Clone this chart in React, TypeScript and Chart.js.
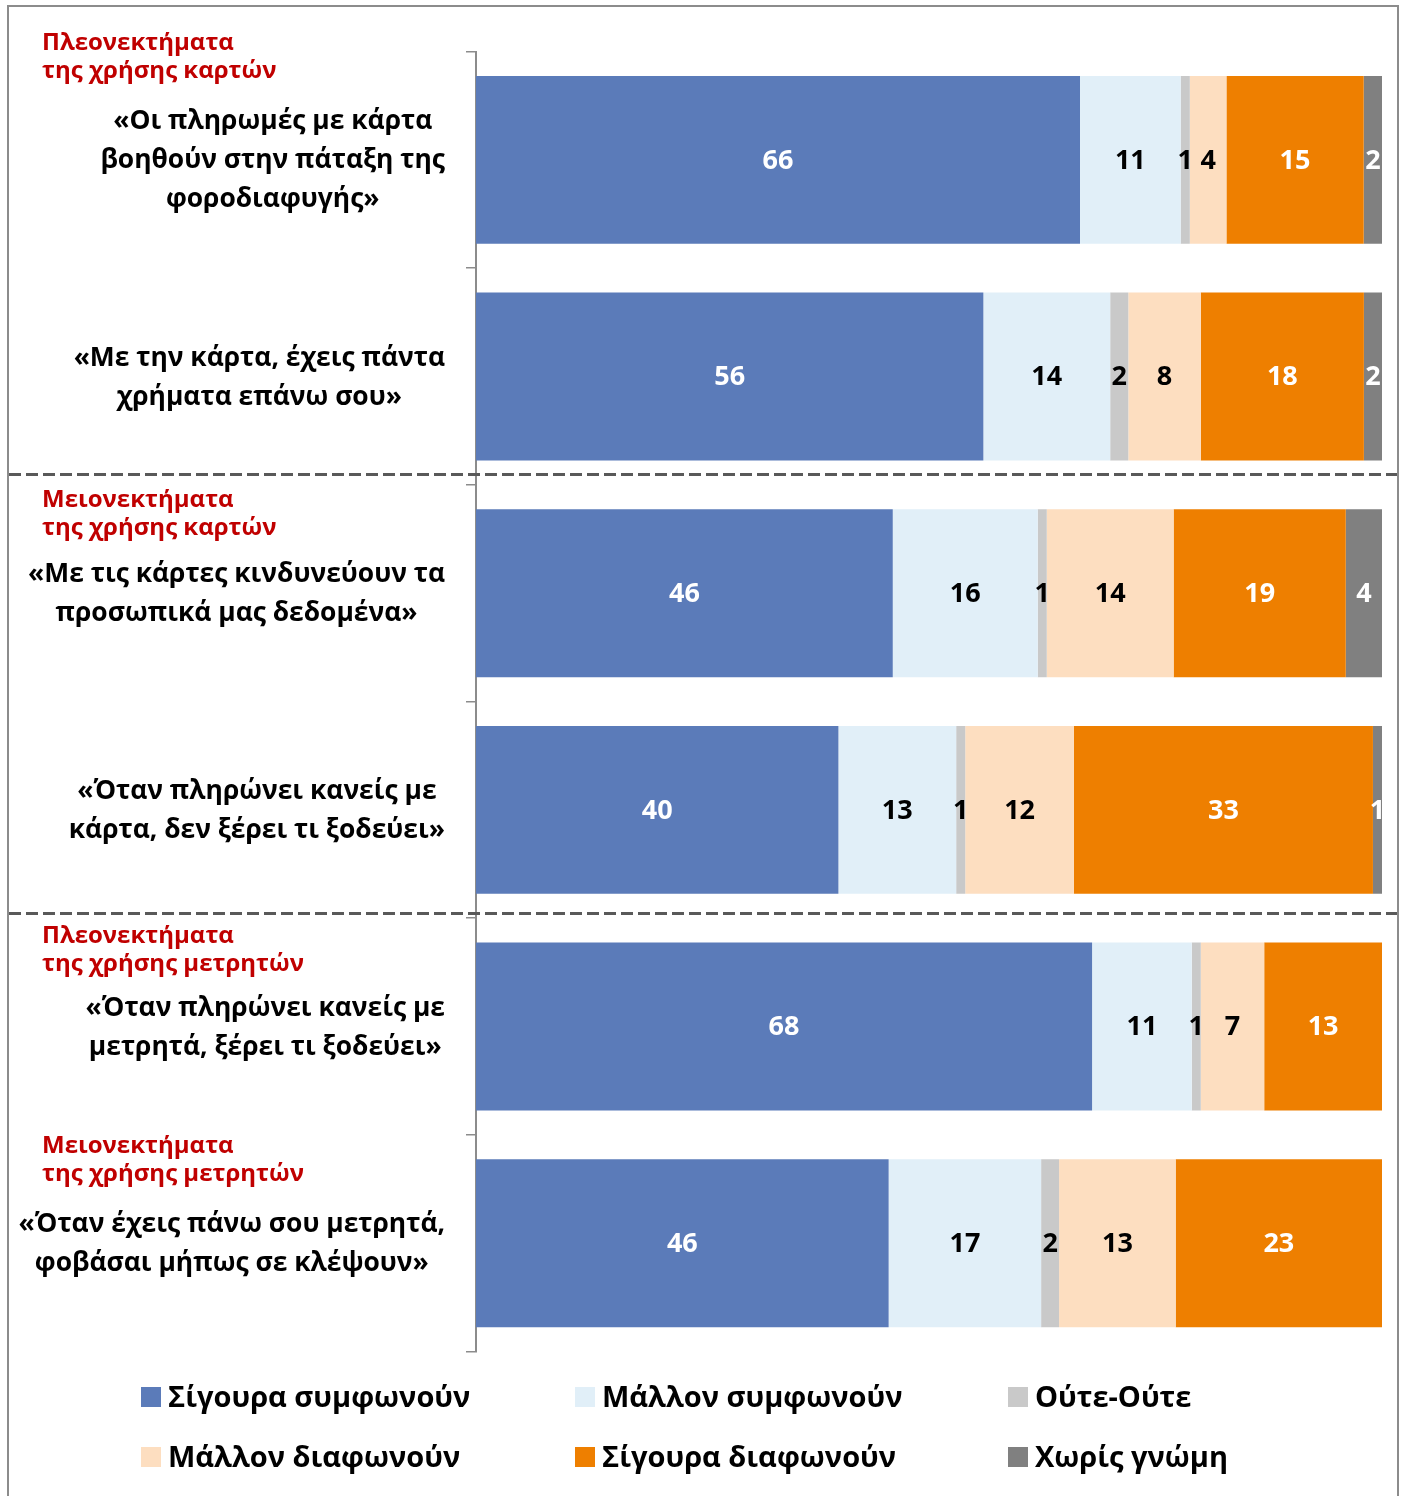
import React, { useEffect, useRef } from "react";
import { Chart, registerables } from "chart.js";

Chart.register(...registerables);

const categories: string[][] = [
  ["«Οι πληρωμές με κάρτα", "βοηθούν στην πάταξη της", "φοροδιαφυγής»"],
  ["«Με την κάρτα, έχεις πάντα", "χρήματα επάνω σου»"],
  ["«Με τις κάρτες κινδυνεύουν τα", "προσωπικά μας δεδομένα»"],
  ["«Όταν πληρώνει κανείς με", "κάρτα, δεν ξέρει τι ξοδεύει»"],
  ["«Όταν πληρώνει κανείς με", "μετρητά, ξέρει τι ξοδεύει»"],
  ["«Όταν έχεις πάνω σου μετρητά,", "φοβάσαι μήπως σε κλέψουν»"],
];

const sectionHeaders: string[][] = [
  ["Πλεονεκτήματα", "της χρήσης καρτών"],
  ["Μειονεκτήματα", "της χρήσης καρτών"],
  ["Πλεονεκτήματα", "της χρήσης μετρητών"],
  ["Μειονεκτήματα", "της χρήσης μετρητών"],
];

const seriesNames = [
  "Σίγουρα συμφωνούν",
  "Μάλλον συμφωνούν",
  "Ούτε-Ούτε",
  "Μάλλον διαφωνούν",
  "Σίγουρα διαφωνούν",
  "Χωρίς γνώμη",
];

const definitelyAgree = [66, 56, 46, 40, 68, 46];
const ratherAgree = [11, 14, 16, 13, 11, 17];
const neither = [1, 2, 1, 1, 1, 2];
const ratherDisagree = [4, 8, 14, 12, 7, 13];
const definitelyDisagree = [15, 18, 19, 33, 13, 23];
const noOpinion = [2, 2, 4, 1, 0, 0];

const seriesValues = [definitelyAgree, ratherAgree, neither, ratherDisagree, definitelyDisagree, noOpinion];
const seriesColors = ["#5B7BB9", "#E1EFF8", "#C9C9C9", "#FDDEC0", "#EE7F00", "#808080"];
const labelColors = ["#FFFFFF", "#000000", "#000000", "#000000", "#FFFFFF", "#FFFFFF"];

// layout (pixel) constants
const HEADER_Y = [43, 500, 936, 1146];
const SEPARATOR_Y = [474, 913];
const FONT = "'Open Sans', 'Noto Sans', sans-serif";

const rowTotals = categories.map((_, i) => seriesValues.reduce((s, arr) => s + arr[i], 0));

const decorPlugin = {
  id: "decor",
  beforeDraw(chart: any) {
    const ctx = chart.ctx;
    ctx.save();
    ctx.strokeStyle = "#8C8C8C";
    ctx.lineWidth = 2;
    ctx.strokeRect(8, 6, 1390, 1510);
    ctx.restore();
  },
  afterDraw(chart: any) {
    const ctx = chart.ctx;
    const yScale = chart.scales.y;
    const area = chart.chartArea;
    ctx.save();
    // category labels
    ctx.font = `bold 26.4px ${FONT}`;
    ctx.fillStyle = "#000000";
    ctx.textAlign = "center";
    ctx.textBaseline = "middle";
    const rightEdge = area.left - 31;
    const lineH = 39;
    categories.forEach((lines, i) => {
      const cy = yScale.getPixelForValue(i) + 1;
      const maxW = Math.max(...lines.map((l) => ctx.measureText(l).width));
      const cx = rightEdge - maxW / 2;
      const startY = cy - ((lines.length - 1) * lineH) / 2;
      lines.forEach((l, j) => ctx.fillText(l, cx, startY + j * lineH));
    });
    // section headers
    ctx.font = `bold 24px ${FONT}`;
    ctx.fillStyle = "#C00000";
    ctx.textAlign = "left";
    sectionHeaders.forEach((lines, i) => {
      lines.forEach((l, j) => ctx.fillText(l, 42, HEADER_Y[i] + j * 28));
    });
    // dashed separators
    ctx.strokeStyle = "#595959";
    ctx.lineWidth = 3;
    ctx.setLineDash([12, 5]);
    SEPARATOR_Y.forEach((y) => {
      ctx.beginPath();
      ctx.moveTo(9, y + 0.5);
      ctx.lineTo(1397, y + 0.5);
      ctx.stroke();
    });
    ctx.setLineDash([]);
    // legend
    const cols = [141, 575, 1008];
    const rows = [1397, 1457];
    seriesNames.forEach((name, k) => {
      const x = cols[k % 3];
      const y = rows[Math.floor(k / 3)];
      ctx.fillStyle = seriesColors[k];
      ctx.fillRect(x, y - 10, 20, 20);
      ctx.fillStyle = "#000000";
      ctx.font = `bold 29px ${FONT}`;
      ctx.textAlign = "left";
      ctx.textBaseline = "middle";
      ctx.fillText(name, x + 27, y + 2);
    });
    ctx.restore();
  },
  afterDatasetsDraw(chart: any) {
    const ctx = chart.ctx;
    ctx.save();
    ctx.font = `bold 27px ${FONT}`;
    ctx.textAlign = "center";
    ctx.textBaseline = "middle";
    chart.data.datasets.forEach((ds: any, di: number) => {
      const meta = chart.getDatasetMeta(di);
      meta.data.forEach((el: any, i: number) => {
        const v = seriesValues[di][i];
        if (!v) return;
        ctx.fillStyle = labelColors[di];
        ctx.fillText(String(v), (el.x + el.base) / 2, el.y + 1);
      });
    });
    ctx.restore();
  },
};

export default function App() {
  const ref = useRef<HTMLCanvasElement>(null);
  useEffect(() => {
    const canvas = ref.current!;
    const chart = new Chart(canvas, {
      type: "bar",
      data: {
        labels: categories.map((c) => c.join(" ")),
        datasets: seriesNames.map((name, k) => ({
          label: name,
          data: seriesValues[k].map((v, i) => (v / rowTotals[i]) * 100),
          backgroundColor: seriesColors[k],
          borderWidth: 0,
          barPercentage: 0.775,
          categoryPercentage: 1,
        })),
      },
      options: {
        indexAxis: "y",
        responsive: false,
        animation: false,
        devicePixelRatio: 1,
        layout: { padding: { left: 466, right: 21, top: 51.5, bottom: 144.5 } },
        plugins: { legend: { display: false }, tooltip: { enabled: false } },
        scales: {
          x: { stacked: true, min: 0, max: 100, display: false },
          y: {
            stacked: true,
            offset: true,
            ticks: { display: false },
            grid: { offset: true, drawOnChartArea: false, drawTicks: true, tickLength: 10, color: "#8C8C8C", lineWidth: 1.5 },
            border: { display: true, color: "#8C8C8C", width: 2 },
          },
        },
      },
      plugins: [decorPlugin],
    });
    return () => chart.destroy();
  }, []);
  return (
    <div style={{ position: "absolute", left: 0, top: 0, width: 1403, height: 1496, background: "#fff" }}>
      <canvas ref={ref} width={1403} height={1496} />
    </div>
  );
}
